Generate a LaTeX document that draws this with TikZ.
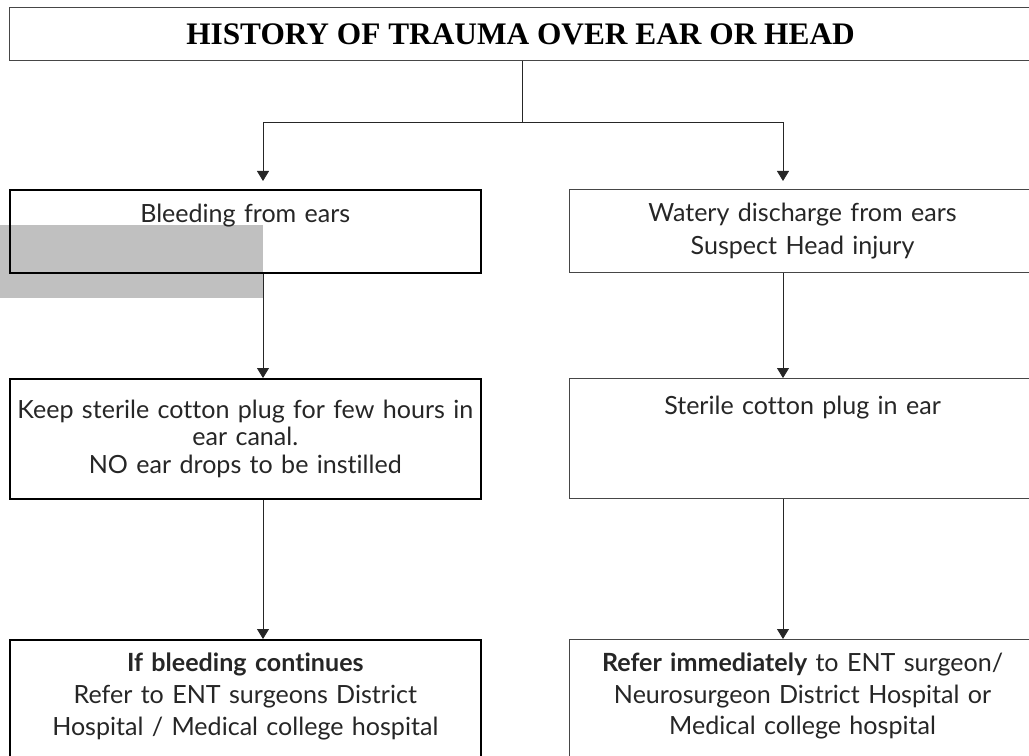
\documentclass[tikz,border=0pt]{standalone}
\usepackage{fontspec}
\setmainfont{Liberation Serif}
\newfontfamily\bodyfont[Ligatures=NoCommon]{Lato}
\usetikzlibrary{arrows.meta}
\definecolor{txtgray}{RGB}{38,38,38}
\definecolor{scangray}{RGB}{192,192,192}
\definecolor{framegray}{RGB}{70,70,70}
\tikzset{
  box/.style={draw, anchor=north west, inner xsep=0pt, inner ysep=0pt, align=center, text=txtgray},
  leftbox/.style={box, line width=1.2pt, text width=353.25pt},
  rightbox/.style={box, draw=framegray, line width=0.8pt, text width=349.5pt},
  arr/.style={-{Triangle[width=9pt,length=7.5pt]}, line width=0.6pt, draw=txtgray},
}

\begin{document}
\begin{tikzpicture}[x=0.75pt,y=0.75pt,yscale=-1,xscale=1]
\clip (0,0) rectangle (1029,756);

% grey scan patch behind the first box
\fill[scangray] (0,225) rectangle (263,298);

\node[box, draw=framegray, line width=0.8pt, text=black, minimum width=766.5pt, minimum height=39.75pt, font=\bfseries\fontsize{23.5}{28}\selectfont] (history) at (9,7) {HISTORY OF TRAUMA OVER EAR OR HEAD};

\node[leftbox, text height=24.6pt, text depth=37.65pt, font=\bodyfont\fontsize{18.8}{21}\selectfont] (bleed) at (9,189) {Bleeding from ears};
\node[rightbox, minimum height=62.25pt, font=\bodyfont\fontsize{18.8}{24.75}\selectfont] (watery) at (569,189) {Watery discharge from ears\\Suspect Head injury};

\node[leftbox, minimum height=90pt, font=\bodyfont\fontsize{18.8}{20.6}\selectfont] (plug) at (9,378) {Keep sterile cotton plug for few hours in\\ear canal.\\NO ear drops to be instilled};
\node[rightbox, text height=26.85pt, text depth=63.15pt, font=\bodyfont\fontsize{18.8}{21}\selectfont] (cotton) at (569,378) {Sterile cotton plug in ear};

\node[leftbox, text height=23.85pt, text depth=81.9pt, font=\bodyfont\fontsize{18.8}{23.8}\selectfont] (refer) at (9,639) {\textbf{If bleeding continues}\\Refer to ENT surgeons District\\Hospital / Medical college hospital};
\node[rightbox, text height=23.85pt, text depth=81.9pt, font=\bodyfont\fontsize{18.8}{23.8}\selectfont] (neuro) at (569,639) {\textbf{Refer immediately} to ENT surgeon/\\Neurosurgeon District Hospital or\\Medical college hospital};

% connectors
\coordinate (fork) at (522,122);
\coordinate (lcol) at (263,122);
\coordinate (rcol) at (783,122);
\draw[line width=0.6pt, draw=txtgray] (history.south -| fork) -- (fork);
\draw[arr, shorten >=6pt] (fork) -| (bleed.north -| lcol);
\draw[arr, shorten >=6pt] (fork) -| (watery.north -| rcol);
\draw[arr] (bleed.south -| lcol) -- (plug.north -| lcol);
\draw[arr] (watery.south -| rcol) -- (cotton.north -| rcol);
\draw[arr] (plug.south -| lcol) -- (refer.north -| lcol);
\draw[arr] (cotton.south -| rcol) -- (neuro.north -| rcol);
\end{tikzpicture}
\end{document}
